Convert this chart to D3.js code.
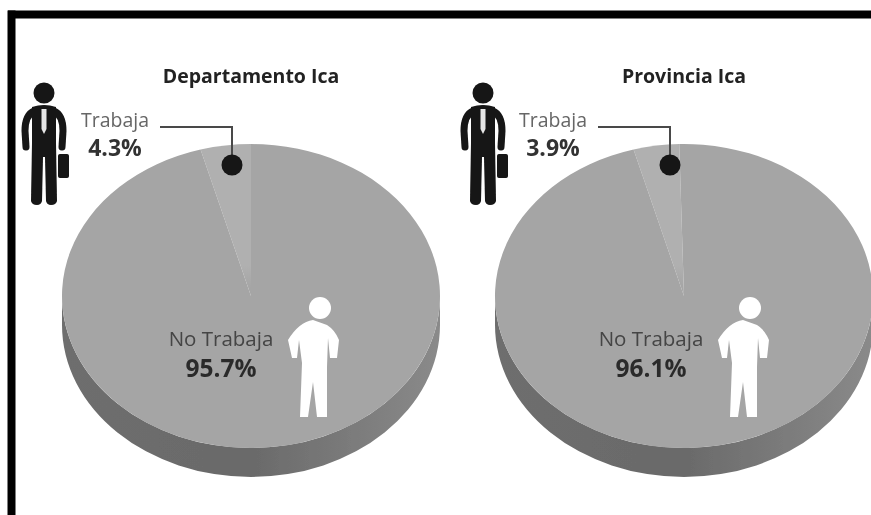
<!DOCTYPE html>
<html>
<head>
<meta charset="utf-8">
<script src="https://cdn.jsdelivr.net/npm/d3@7"></script>
<style>
html, body { margin: 0; padding: 0; background: #fff; }
svg { display: block; }
text { font-family: "Open Sans", sans-serif; text-anchor: middle; }
</style>
</head>
<body>
<svg id="chart" width="871" height="515"></svg>
<script>
var titles = ["Departamento Ica", "Provincia Ica"]
var categories = ["Trabaja", "No Trabaja"]
var trabajaValues = [4.3, 3.9]
var noTrabajaValues = [95.7, 96.1]

var svg = d3.select("#chart")
var rx = 189, ry = 152, depth = 29
var cxs = [251, 684], cy = 296

var defs = svg.append("defs")
var blur = defs.append("filter").attr("id", "soft")
    .attr("x", "-5%").attr("y", "-5%").attr("width", "110%").attr("height", "110%")
blur.append("feGaussianBlur").attr("stdDeviation", 0.75)

var sideGrad = defs.append("linearGradient").attr("id", "side")
    .attr("x1", 0).attr("x2", 1).attr("y1", 0).attr("y2", 0)
sideGrad.append("stop").attr("offset", "0%").attr("stop-color", "#6e6e6e")
sideGrad.append("stop").attr("offset", "50%").attr("stop-color", "#6a6a6a")
sideGrad.append("stop").attr("offset", "100%").attr("stop-color", "#8a8a8a")

var wedgeGrad = defs.append("linearGradient").attr("id", "wedge")
    .attr("gradientUnits", "userSpaceOnUse")
    .attr("x1", 0).attr("x2", 0).attr("y1", -rx).attr("y2", 0)
wedgeGrad.append("stop").attr("offset", "0%").attr("stop-color", "#b0b0b0")
wedgeGrad.append("stop").attr("offset", "80%").attr("stop-color", "#b0b0b0")
wedgeGrad.append("stop").attr("offset", "95%").attr("stop-color", "#a5a5a5")

var root = svg.append("g").attr("filter", "url(#soft)")

// marco negro, solo arriba e izquierda
root.append("rect").attr("x", 8).attr("y", 10.5).attr("width", 870).attr("height", 8).attr("fill", "#000")
root.append("rect").attr("x", 7.5).attr("y", 10.5).attr("width", 8).attr("height", 510).attr("fill", "#000")

var pie = d3.pie().sort(null).startAngle(-2 * Math.PI * trabajaValues[0] / 100)
var arc = d3.arc().innerRadius(0).outerRadius(rx)

function drawMan(g) {
    var ink = "#141414"
    g.append("circle").attr("cx", 0).attr("cy", 0).attr("r", 10.5).attr("fill", ink)
    g.append("path").attr("fill", ink)
        .attr("d", "M-12,14 Q0,10 12,14 L12,50 L13,108 Q12,112 7,112 Q3,112 2,108 L1,64 L-1,64 L-2,108 Q-3,112 -7,112 Q-12,112 -13,108 L-12,50 Z")
    g.append("path").attr("fill", "none").attr("stroke", ink).attr("stroke-width", 7).attr("stroke-linecap", "round")
        .attr("d", "M-10,18 Q-19,22 -19,38 L-18,54")
    g.append("path").attr("fill", "none").attr("stroke", ink).attr("stroke-width", 7).attr("stroke-linecap", "round")
        .attr("d", "M10,18 Q19,22 19,38 L18,54")
    g.append("path").attr("fill", "#e6e6e6")
        .attr("d", "M-2.5,16 L2.5,16 L2.5,36 L0,41 L-2.5,36 Z")
    g.append("rect").attr("x", 14).attr("y", 61).attr("width", 11).attr("height", 24).attr("rx", 2).attr("fill", ink)
}

function drawPoorMan(g) {
    g.append("circle").attr("cx", 7).attr("cy", 0).attr("r", 11).attr("fill", "#fff")
    g.append("path").attr("fill", "#fff")
        .attr("d", "M0,12 Q-14,14 -25,32 L-21,50 L-16,50 L-14,32 L-11,55 L-13,109 L-5,109 L0,74 L4,109 L14,109 L14,59 L15,30 L17,50 L24,50 L26,32 Q22,22 14,17 Z")
}

cxs.forEach(function(cx, i) {
    var pieG = root.append("g").attr("transform", "translate(" + cx + "," + cy + ")")

    // canto del disco
    pieG.append("path").attr("fill", "url(#side)")
        .attr("d", "M" + (-rx) + ",0 A" + rx + "," + ry + " 0 0 0 " + rx + ",0 L" + rx + "," + depth +
            " A" + rx + "," + ry + " 0 0 1 " + (-rx) + "," + depth + " Z")

    var face = pieG.append("g").attr("transform", "scale(1," + (ry / rx) + ")")
    face.selectAll("path")
        .data(pie([trabajaValues[i], noTrabajaValues[i]]))
        .enter()
        .append("path")
        .attr("d", arc)
        .attr("fill", function(d, j) { return j == 0 ? "url(#wedge)" : "#a5a5a5" })

    root.append("text").attr("x", i == 0 ? 251 : 684).attr("y", 83)
        .attr("font-size", 19.5).attr("font-weight", 700).attr("fill", "#222")
        .text(titles[i])

    var ldx = i == 0 ? 0 : 438

    drawMan(root.append("g").attr("transform", "translate(" + (44 + (i == 0 ? 0 : 439)) + ",93)"))
    drawPoorMan(root.append("g").attr("transform", "translate(" + (313 + (i == 0 ? 0 : 430)) + ",308)"))

    // etiqueta Trabaja
    root.append("text").attr("x", 115 + ldx).attr("y", 127)
        .attr("font-size", 19.5).attr("fill", "#666").text(categories[0])
    root.append("text").attr("x", 115 + ldx).attr("y", 156)
        .attr("font-size", 23).attr("font-weight", 700).attr("fill", "#333")
        .text(trabajaValues[i] + "%")

    // linea guia
    root.append("path").attr("fill", "none").attr("stroke", "#4a4a4a").attr("stroke-width", 2)
        .attr("d", d3.line()([[160 + ldx, 127], [232 + ldx, 127], [232 + ldx, 160]]))
    root.append("circle").attr("cx", 232 + ldx).attr("cy", 165).attr("r", 10.5).attr("fill", "#141414")

    // etiqueta No Trabaja
    root.append("text").attr("x", 221 + (i == 0 ? 0 : 430)).attr("y", 346)
        .attr("font-size", 20.5).attr("fill", "#444").text(categories[1])
    root.append("text").attr("x", 221 + (i == 0 ? 0 : 430)).attr("y", 377)
        .attr("font-size", 24.5).attr("font-weight", 700).attr("fill", "#2c2c2c")
        .text(noTrabajaValues[i] + "%")
})
</script>
</body>
</html>
